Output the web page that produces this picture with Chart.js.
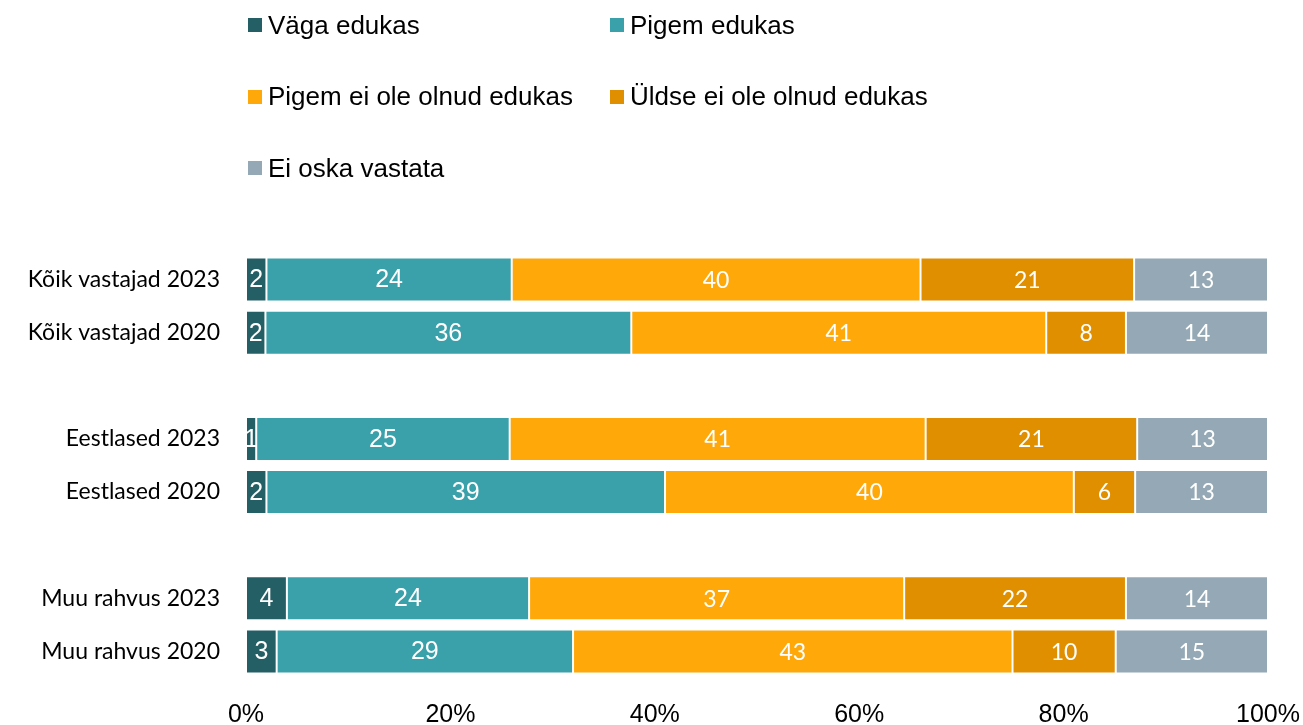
<!DOCTYPE html>
<html>
<head>
<meta charset="utf-8">
<script src="https://cdn.jsdelivr.net/npm/chart.js@4"></script>
<style>
  body { margin: 0; background: #fff; }
  #wrap { position: relative; width: 1303px; height: 725px; }
  #legend { position: absolute; left: 248px; top: 0; font-family: "Liberation Sans", Arial, sans-serif; font-size: 26px; color: #000; }
  .item { position: absolute; white-space: nowrap; display: flex; align-items: center; height: 30px; }
  .box { width: 14px; height: 14px; margin-right: 6px; }
</style>
</head>
<body>
<div id="wrap">
  <canvas id="myChart" width="1303" height="725"></canvas>
  <div id="legend"></div>
</div>
<script>
const categories = ['Kõik vastajad 2023', 'Kõik vastajad 2020', '', 'Eestlased 2023', 'Eestlased 2020', '', 'Muu rahvus 2023', 'Muu rahvus 2020'];
const seriesNames = ['Väga edukas', 'Pigem edukas', 'Pigem ei ole olnud edukas', 'Üldse ei ole olnud edukas', 'Ei oska vastata'];
const colors = ['#255F66', '#3AA1AB', '#FFA80A', '#E08F00', '#94A9B5'];

// shares in %, null = spacer row
const vagaEdukas   = [2.0, 1.9, null, 1.0, 2.0, null, 4.0, 3.0];
const pigemEdukas  = [24.0, 35.8, null, 24.8, 39.0, null, 23.7, 29.0];
const pigemEiOle   = [40.0, 40.6, null, 40.7, 40.0, null, 36.7, 43.0];
const uldseEiOle   = [20.9, 7.8, null, 20.7, 6.0, null, 21.7, 10.1];
const eiOskaVast   = [13.1, 13.9, null, 12.8, 13.0, null, 13.9, 14.9];
const xTicks = ['0%', '20%', '40%', '60%', '80%', '100%'];

const seriesData = [vagaEdukas, pigemEdukas, pigemEiOle, uldseEiOle, eiOskaVast];
const labelFonts = ['25px "Liberation Sans", Arial', '25px "Liberation Sans", Arial', '23px Lato', '23px Lato', '23px Lato'];

// html legend, 2 columns
const legend = document.getElementById('legend');
seriesNames.forEach(function (name, i) {
  const d = document.createElement('div');
  d.className = 'item';
  d.style.left = (i % 2 === 0 ? 0 : 362) + 'px';
  d.style.top = (10 + Math.floor(i / 2) * 71.5) + 'px';
  d.innerHTML = '<span class="box" style="background:' + colors[i] + '"></span>' + name;
  legend.appendChild(d);
});

const barLabels = {
  id: 'barLabels',
  afterDatasetsDraw: function (chart) {
    const ctx = chart.ctx;
    ctx.save();
    ctx.fillStyle = '#fff';
    ctx.textAlign = 'center';
    ctx.textBaseline = 'middle';
    chart.data.datasets.forEach(function (ds, i) {
      const meta = chart.getDatasetMeta(i);
      ctx.font = labelFonts[i];
      meta.data.forEach(function (bar, j) {
        const v = ds.data[j];
        if (v === null) return;
        ctx.fillText(Math.round(v), (bar.x + bar.base) / 2, bar.y + 1);
      });
    });
    ctx.restore();
  }
};

var ctx = document.getElementById('myChart').getContext('2d');
var chart = new Chart(ctx, {
  type: 'bar',
  data: {
    labels: categories,
    datasets: seriesData.map(function (d, i) {
      return {
        label: seriesNames[i],
        data: d,
        backgroundColor: colors[i],
        borderColor: 'rgba(255,255,255,0.35)',
        borderWidth: 1,
        borderSkipped: false,
        barPercentage: 0.83,
        categoryPercentage: 1
      };
    })
  },
  options: {
    indexAxis: 'y',
    responsive: false,
    animation: false,
    layout: { padding: { top: 253, right: 35, left: 0, bottom: 0 } },
    plugins: { legend: { display: false }, tooltip: { enabled: false } },
    scales: {
      x: {
        stacked: true,
        min: 0,
        max: 100,
        grid: { display: false, drawTicks: false },
        border: { display: false },
        ticks: {
          stepSize: 20,
          padding: 22,
          color: '#000',
          font: { family: '"Liberation Sans", Arial', size: 25 },
          callback: function (v, i) { return xTicks[i]; }
        },
        afterFit: function (s) { s.height = 47; s.paddingLeft = 0; s.paddingRight = 0; }
      },
      y: {
        stacked: true,
        grid: { display: false, drawTicks: false },
        border: { display: false },
        ticks: {
          padding: 26,
          color: '#000',
          font: { family: 'Lato', size: 23 }
        },
        afterFit: function (s) { s.width = 246; }
      }
    }
  },
  plugins: [barLabels]
});
</script>
</body>
</html>
